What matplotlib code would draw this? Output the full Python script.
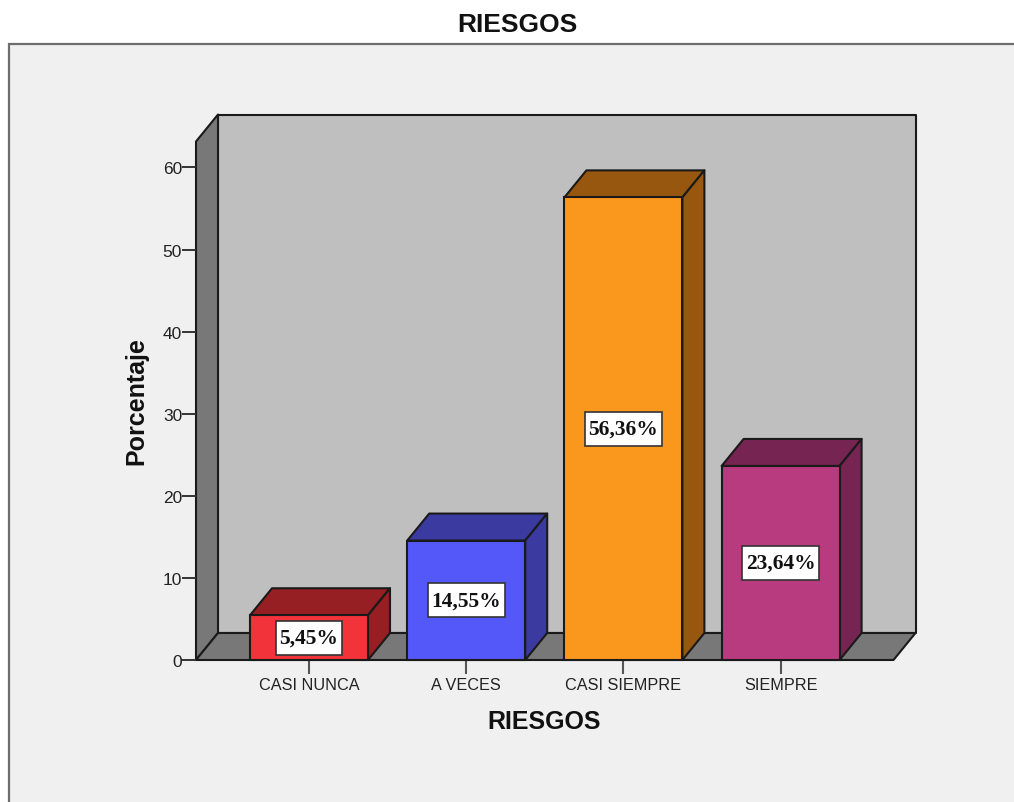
import matplotlib
matplotlib.use("Agg")
import matplotlib.pyplot as plt
from matplotlib.patches import Polygon, Rectangle

categories = ["CASI NUNCA", "A VECES", "CASI SIEMPRE", "SIEMPRE"]
values = [5.45, 14.55, 56.36, 23.64]
labels = ["5,45%", "14,55%", "56,36%", "23,64%"]
front_colors = ["#F2333A", "#5558F8", "#FA981E", "#B83B80"]
dark_colors = ["#951F22", "#3A3AA0", "#98570F", "#762451"]
yticks = [0, 10, 20, 30, 40, 50, 60]

W, H = 1014, 803
plt.rcParams["font.family"] = ["Liberation Sans", "DejaVu Sans"]
fig = plt.figure(figsize=(W / 100, H / 100), dpi=100, facecolor="white")

# grey chart panel
panel = fig.add_axes([0, 0, 1, 1], zorder=0)
panel.set_xlim(0, W)
panel.set_ylim(H, 0)
panel.axis("off")
panel.add_patch(Rectangle((9, 44.5), W + 20, H, fc="#F0F0F0", ec="#6E6E6E", lw=1.6))

# front plane of the 3D frame
L, R, B, T = 196, 893.5, 661, 142.5
ax = fig.add_axes([L / W, 1 - B / H, (R - L) / W, (B - T) / H], zorder=1)
xstep = 157.2
x0 = (L - 309) / xstep
x1 = (R - 309) / xstep
ppu = (661 - 168.5) / 60
ymax = (B - T) / ppu
ax.set_xlim(x0, x1)
ax.set_ylim(0, ymax)
ax.patch.set_visible(False)
for s in ax.spines.values():
    s.set_visible(False)

dx = 22 / xstep
dy = 27 / ppu
bw = 118 / xstep
EC = "#1A1A1A"
LW = 1.5


def poly(pts, fc, z):
    ax.add_patch(Polygon(pts, closed=True, fc=fc, ec=EC, lw=LW, zorder=z,
                         clip_on=False, joinstyle="round"))


# walls and floor
poly([(x0 + dx, dy), (x1 + dx, dy), (x1 + dx, ymax + dy), (x0 + dx, ymax + dy)], "#BFBFBF", 1)
poly([(x0, 0), (x0 + dx, dy), (x0 + dx, ymax + dy), (x0, ymax)], "#787878", 1)
poly([(x0, 0), (x1, 0), (x1 + dx, dy), (x0 + dx, dy)], "#787878", 1)

# bars with depth faces
texts = []
for i, v in enumerate(values):
    l, r = i - bw / 2, i + bw / 2
    poly([(l, v), (r, v), (r + dx, v + dy), (l + dx, v + dy)], dark_colors[i], 2)
    poly([(r, 0), (r + dx, dy), (r + dx, v + dy), (r, v)], dark_colors[i], 2)
    ax.bar(i, v, width=bw, color=front_colors[i], edgecolor=EC, linewidth=LW,
           zorder=3, clip_on=False)
    texts.append(ax.text(i, v / 2, labels[i], ha="center", va="center", fontsize=15.5,
                         fontweight="bold", family=["Liberation Serif", "DejaVu Serif"],
                         color="#111111", zorder=5))

# white label boxes sized from the rendered text
fig.canvas.draw()
inv = ax.transAxes.inverted()
renderer = fig.canvas.get_renderer()
for i, (t, v) in enumerate(zip(texts, values)):
    e = t.get_window_extent(renderer)
    cy = ax.transData.transform((i, v / 2))[1]
    box_w, box_h = e.width + 7, 34
    (ax0, ay0) = inv.transform((e.x0 - 3.5, cy - box_h / 2))
    (ax1, ay1) = inv.transform((e.x0 - 3.5 + box_w, cy + box_h / 2))
    ax.add_patch(Rectangle((ax0, ay0), ax1 - ax0, ay1 - ay0, transform=ax.transAxes,
                           fc="white", ec="#333333", lw=1.2, zorder=4, clip_on=False))

ax.set_xticks(range(len(categories)))
ax.set_xticklabels(categories)
ax.set_yticks(yticks)
ax.tick_params(axis="x", length=10, width=1.5, color="#555555", labelsize=11.7,
               labelcolor="#222222", pad=2)
ax.tick_params(axis="y", length=10, width=1.4, color="#333333", labelsize=12.5,
               labelcolor="#222222", pad=0)

panel.text(517.5, 24.5, "RIESGOS", ha="center", va="center", fontsize=19, fontweight="bold", color="#111111")
panel.text(544, 722.5, "RIESGOS", ha="center", va="center", fontsize=18, fontweight="bold", color="#111111")
panel.text(136, 401.5, "Porcentaje", ha="center", va="center", rotation=90, fontsize=18,
           fontweight="bold", color="#111111")

fig.savefig("out.png", dpi=100, facecolor="white")
